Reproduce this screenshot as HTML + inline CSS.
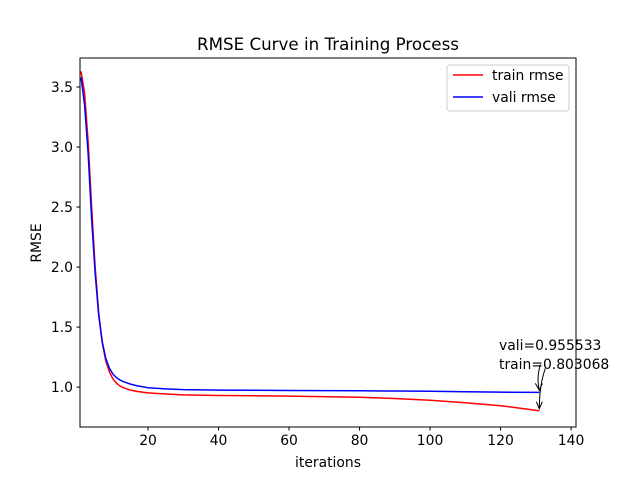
<!DOCTYPE html>
<html><head><meta charset="utf-8"><style>
body{margin:0;background:#fff}
svg{display:block;font-family:"DejaVu Sans","Liberation Sans",sans-serif}
</style></head><body>
<svg width="640" height="480">
<rect width="640" height="480" fill="#fff"/>
<g id="plot"></g>
</svg>
<script>
const iters = [1,2,3,4,5,6,7,8,9,10,11,12,13,15,17,20,25,30,40,60,80,90,100,110,120,131];
const trainRmse = [3.63,3.45,3.05,2.5,2.0,1.62,1.37,1.22,1.13,1.07,1.035,1.01,0.995,0.975,0.963,0.952,0.942,0.935,0.93,0.925,0.915,0.905,0.89,0.87,0.845,0.803068];
const valiRmse = [3.58,3.35,2.95,2.4,1.95,1.6,1.38,1.24,1.16,1.11,1.08,1.06,1.045,1.025,1.01,0.995,0.985,0.979,0.975,0.972,0.969,0.967,0.965,0.961,0.958,0.955533];
const xTicks = [20,40,60,80,100,120,140];
const yTicks = [1.0,1.5,2.0,2.5,3.0,3.5];
const L=80,R=576,T=58,B=427;
const xMin=0.7,xMax=141.4,yMin=0.6675,yMax=3.7417;
const sx=v=>L+(v-xMin)/(xMax-xMin)*(R-L);
const sy=v=>B-(v-yMin)/(yMax-yMin)*(B-T);
const NS="http://www.w3.org/2000/svg";
const g=document.getElementById('plot');
function mk(tag,attrs,parent){const e=document.createElementNS(NS,tag);for(const k in attrs)e.setAttribute(k,attrs[k]);(parent||g).appendChild(e);return e;}
function txt(s,attrs){const e=mk('text',attrs);e.textContent=s;return e;}
function series(vals,color,name){
  const p=mk('polyline',{points:iters.map((x,i)=>sx(x)+','+sy(vals[i])).join(' '),fill:'none',stroke:color,'stroke-width':1.5,'stroke-linejoin':'round'});
  
  
}
series(trainRmse,'#ff0000','train-rmse-line');
series(valiRmse,'#0000ff','vali-rmse-line');
const fr=mk('rect',{x:L,y:T,width:R-L,height:B-T,fill:'none',stroke:'#000','stroke-width':1});


xTicks.forEach(t=>{
  mk('line',{x1:sx(t),x2:sx(t),y1:B,y2:B+3.5,stroke:'#000'});
  const e=txt(String(t),{x:sx(t),y:B+18,'text-anchor':'middle','font-size':13.9});
  
  
});
yTicks.forEach(t=>{
  mk('line',{x1:L-3.5,x2:L,y1:sy(t),y2:sy(t),stroke:'#000'});
  const e=txt(t.toFixed(1),{x:L-7,y:sy(t)+5,'text-anchor':'end','font-size':13.9});
  
  
});
let e=txt('RMSE Curve in Training Process',{x:328,y:50,'text-anchor':'middle','font-size':16.7});

e=txt('iterations',{x:328,y:467,'text-anchor':'middle','font-size':13.9});

e=txt('RMSE',{x:0,y:0,'text-anchor':'middle','font-size':13.9,transform:'translate(41,243) rotate(-90)'});

const lastX=sx(iters[iters.length-1]);
const vY=sy(valiRmse[valiRmse.length-1]), tY=sy(trainRmse[trainRmse.length-1]);
e=txt('vali='+valiRmse[valiRmse.length-1],{x:499,y:350,'font-size':13.9});

e=txt('train='+trainRmse[trainRmse.length-1],{x:499,y:369,'font-size':13.9});

mk('path',{d:`M${lastX+1},${vY-28} Q${lastX-3},${vY-14} ${lastX},${vY-2}`,fill:'none',stroke:'#000'});
mk('path',{d:`M${lastX-4},${vY-9} L${lastX},${vY-2} L${lastX+3},${vY-9}`,fill:'none',stroke:'#000'});
mk('path',{d:`M${lastX+6},${vY-24} Q${lastX},${vY-8} ${lastX},${tY-2}`,fill:'none',stroke:'#000'});
mk('path',{d:`M${lastX-3},${tY-9} L${lastX},${tY-2} L${lastX+3},${tY-9}`,fill:'none',stroke:'#000'});
const lg=mk('g',{});

mk('rect',{x:447,y:65,width:122,height:46,rx:3,fill:'#fff',stroke:'#ccc'},lg);
mk('line',{x1:453,x2:483,y1:75,y2:75,stroke:'#ff0000','stroke-width':1.5},lg);
mk('line',{x1:453,x2:483,y1:97,y2:97,stroke:'#0000ff','stroke-width':1.5},lg);
e=mk('text',{x:492,y:80,'font-size':13.9},lg);e.textContent='train rmse';

e=mk('text',{x:492,y:102,'font-size':13.9},lg);e.textContent='vali rmse';

</script>
</body></html>
